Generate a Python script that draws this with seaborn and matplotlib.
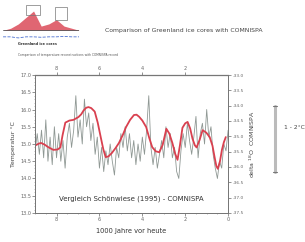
import numpy as np
import pandas as pd
import matplotlib
matplotlib.use("Agg")
import matplotlib.pyplot as plt
import seaborn as sns

# ---- data ----
raw_kyr = [9.0, 8.9, 8.8, 8.7, 8.6, 8.5, 8.4, 8.3, 8.2, 8.1, 8.0, 7.9, 7.8, 7.7, 7.6, 7.5,
           7.4, 7.3, 7.2, 7.1, 7.0, 6.9, 6.8, 6.7, 6.6, 6.5, 6.4, 6.3, 6.2, 6.1, 6.0, 5.9,
           5.8, 5.7, 5.6, 5.5, 5.4, 5.3, 5.2, 5.1, 5.0, 4.9, 4.8, 4.7, 4.6, 4.5, 4.4, 4.3,
           4.2, 4.1, 4.0, 3.9, 3.8, 3.7, 3.6, 3.5, 3.4, 3.3, 3.2, 3.1, 3.0, 2.9, 2.8, 2.7,
           2.6, 2.5, 2.4, 2.3, 2.2, 2.1, 2.0, 1.9, 1.8, 1.7, 1.6, 1.5, 1.4, 1.3, 1.2, 1.1,
           1.0, 0.9, 0.8, 0.7, 0.6, 0.5, 0.4, 0.3, 0.2, 0.1, 0.0]
raw_temp = [14.8, 15.3, 14.7, 15.4, 14.6, 15.7, 14.5, 15.2, 14.4, 15.5, 14.6, 15.3, 14.5, 15.1,
            14.3, 15.2, 15.6, 14.9, 15.4, 16.4, 15.2, 15.7, 15.0, 16.3, 15.5, 15.9, 15.1, 15.6,
            14.7, 15.2, 14.3, 14.9, 14.2, 14.8, 14.4, 15.0, 14.5, 14.1, 14.9, 14.6, 15.3, 14.9,
            15.5, 14.8, 15.3, 14.6, 15.1, 14.4, 15.0, 14.5, 15.2, 14.7, 15.4, 16.4, 14.9, 14.4,
            14.9, 14.3, 14.7, 15.1, 14.6, 15.5, 14.9, 15.3, 14.6, 14.9, 14.2, 14.0, 14.8, 15.3,
            14.9, 15.6, 15.1, 14.7, 15.2, 15.8, 14.6, 15.3, 15.6, 15.0, 16.0, 15.2, 15.5, 14.7,
            14.3, 14.0, 14.5, 14.3, 15.0, 14.8, 15.4]

smooth_kyr = [8.95, 8.83, 8.72, 8.55, 8.39, 8.15, 7.95, 7.82, 7.72, 7.59, 7.40, 7.21, 6.98,
              6.85, 6.74, 6.62, 6.51, 6.38, 6.22, 6.08, 5.94, 5.82, 5.71, 5.58, 5.42, 5.25,
              5.09, 4.92, 4.76, 4.57, 4.39, 4.27, 4.15, 4.00, 3.82, 3.68, 3.54, 3.38, 3.21,
              3.05, 2.88, 2.74, 2.60, 2.47, 2.36, 2.25, 2.13, 2.00, 1.89, 1.77, 1.66, 1.55,
              1.47, 1.33, 1.19, 1.02, 0.86, 0.73, 0.62, 0.55, 0.48, 0.38, 0.29, 0.20, 0.11]
smooth_temp = [14.97, 15.01, 15.03, 14.98, 14.91, 14.83, 14.84, 14.90, 15.25, 15.62, 15.68,
               15.70, 15.78, 15.86, 15.97, 16.05, 16.07, 16.04, 15.94, 15.62, 15.20, 14.85,
               14.62, 14.64, 14.74, 14.88, 15.03, 15.25, 15.49, 15.70, 15.84, 15.85, 15.79,
               15.68, 15.49, 15.18, 14.91, 14.79, 14.76, 14.98, 15.44, 15.30, 15.03, 14.72,
               14.54, 14.95, 15.47, 15.60, 15.64, 15.45, 15.15, 14.96, 14.90, 15.12, 15.40,
               15.33, 15.20, 14.95, 14.58, 14.36, 14.28, 14.50, 14.83, 15.05, 15.20]

left_ticks = [13.0, 13.5, 14.0, 14.5, 15.0, 15.5, 16.0, 16.5, 17.0]
right_tick_labels = ["-37.5", "-37.0", "-36.5", "-36.0", "-35.5", "-35.0",
                     "-34.5", "-34.0", "-33.5", "-33.0"]
x_ticks = [8, 6, 4, 2, 0]

inset_x = [0, 1, 2, 3, 4, 5, 6, 7, 8, 9, 10]
inset_red = [0.0, 0.1, 0.3, 0.6, 0.9, 0.2, 0.3, 0.5, 0.2, 0.1, 0.0]
inset_blue = [-0.3, -0.3, -0.35, -0.3, -0.3, -0.32, -0.3, -0.3, -0.28, -0.3, -0.3]

raw_df = pd.DataFrame({"kyr": raw_kyr, "temp": raw_temp})
smooth_df = pd.DataFrame({"kyr": smooth_kyr, "temp": smooth_temp})

sns.set_theme(style="ticks")
plt.rcParams['font.family'] = ['DejaVu Sans']

fig = plt.figure(figsize=(3.05, 2.42), dpi=100)
ax = fig.add_axes([0.115, 0.12, 0.633, 0.57])

sns.lineplot(data=raw_df, x="kyr", y="temp", ax=ax, color="#8f9894", lw=0.6,
             estimator=None, sort=False)
sns.lineplot(data=smooth_df, x="kyr", y="temp", ax=ax, color="#d9404f", lw=1.3,
             estimator=None, sort=False)

ax.set_xlim(9, 0)
ax.set_ylim(13, 17)
ax.set_xticks(x_ticks)
ax.set_xticklabels([str(t) for t in x_ticks])
ax.set_yticks(left_ticks)
ax.set_yticklabels([f"{t:.1f}" for t in left_ticks])
ax.minorticks_on()
ax.tick_params(axis="both", which="major", labelsize=3.5, length=2, width=0.5,
               colors="#666666", pad=1)
ax.tick_params(axis="both", which="minor", length=1, width=0.4, colors="#888888")
ax.set_xlabel("1000 Jahre vor heute", fontsize=4.8, color="#333333", labelpad=4)
ax.set_ylabel("Temperatur °C", fontsize=4.5, color="#444444", labelpad=3)
for s in ax.spines.values():
    s.set_color("#777777")
    s.set_linewidth(0.6)
ax.spines["top"].set_linewidth(0.9)

axt = ax.twiny()
axt.set_xlim(9, 0)
axt.set_xticks(x_ticks[:-1])
axt.set_xticklabels([str(t) for t in x_ticks[:-1]])
axt.tick_params(axis="x", labelsize=3.5, length=2, width=0.5, colors="#666666", pad=1)

axr = ax.twinx()
axr.set_ylim(0, 9)
axr.set_yticks(range(10))
axr.set_yticklabels(right_tick_labels)
axr.tick_params(axis="y", labelsize=3.2, length=2, width=0.5, colors="#666666", pad=1)
axr.set_ylabel("delta $^{18}$O  COMNISPA", fontsize=4.5, color="#444444", labelpad=3)
for s in list(axt.spines.values()) + list(axr.spines.values()):
    s.set_color("#777777")
    s.set_linewidth(0.6)

ax.text(0.5, 0.1, "Vergleich Schönwiese (1995) - COMNISPA", transform=ax.transAxes,
        ha="center", va="center", fontsize=5, color="#333333")

# scale bar at right
fig.add_artist(plt.Line2D([0.902, 0.902], [0.29, 0.56], color="#bbbbbb", lw=2.2))
fig.add_artist(plt.Line2D([0.895, 0.909], [0.56, 0.56], color="#777777", lw=0.8))
fig.add_artist(plt.Line2D([0.895, 0.909], [0.29, 0.29], color="#777777", lw=0.8))
fig.text(0.93, 0.475, "1 - 2°C", fontsize=4.3, color="#444444", va="center", ha="left")

# title
fig.text(0.345, 0.875, "Comparison of Greenland ice cores with COMNISPA", fontsize=4.4,
         color="#444444", va="center", ha="left")

# small inset diagram at top-left
axi = fig.add_axes([0.01, 0.83, 0.25, 0.16])
axi.fill_between(inset_x, 0, inset_red, color="#d9404f", alpha=0.8, lw=0)
axi.plot(inset_x, [0] * len(inset_x), color="#555555", lw=0.6)
axi.plot(inset_x, inset_blue, color="#4a6fd0", lw=0.6, ls="--")
axi.add_patch(plt.Rectangle((3.0, 0.7), 1.8, 0.5, fill=False, ec="#777777", lw=0.5))
axi.add_patch(plt.Rectangle((6.8, 0.5), 1.6, 0.6, fill=False, ec="#777777", lw=0.5))
axi.set_xlim(0, 10)
axi.set_ylim(-0.5, 1.3)
axi.axis("off")
fig.text(0.06, 0.815, "Greenland ice cores", fontsize=2.5, color="#333333", fontweight="bold")
fig.text(0.06, 0.77, "Comparison of temperature reconstructions with COMNISPA record",
         fontsize=2.2, color="#555555")

fig.savefig("out.png", dpi=100)
